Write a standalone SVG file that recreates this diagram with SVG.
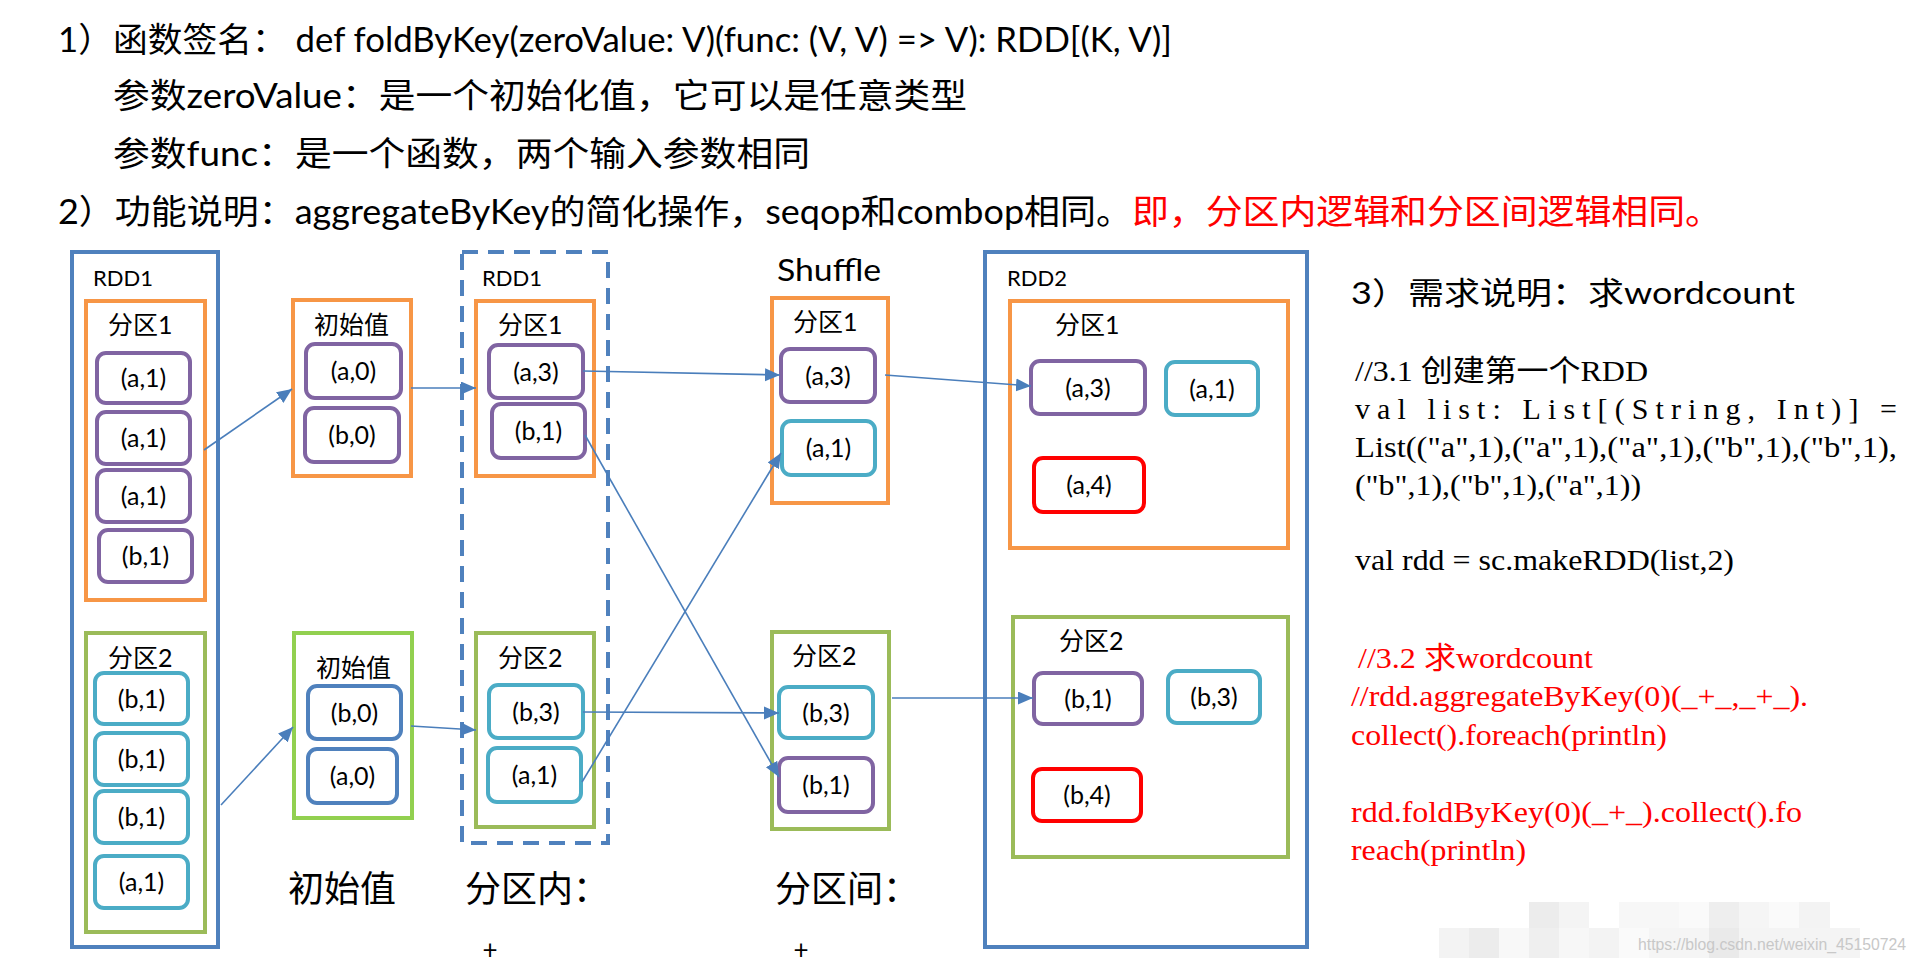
<svg xmlns="http://www.w3.org/2000/svg" width="1919" height="963" viewBox="0 0 1919 963">
<style>
.rdd{fill:none;stroke:#4F81BD;stroke-width:4}
.dash{fill:none;stroke:#4F81BD;stroke-width:4;stroke-dasharray:16 10}
.po{fill:none;stroke:#F79646;stroke-width:4}
.pg{fill:none;stroke:#9BBB59;stroke-width:4}
.pgb{fill:none;stroke:#92D050;stroke-width:4}
.ip{fill:#fff;stroke:#8064A2;stroke-width:4}
.it{fill:#fff;stroke:#4BACC6;stroke-width:4}
.ib{fill:#fff;stroke:#4F81BD;stroke-width:4}
.ir{fill:#fff;stroke:#FF0000;stroke-width:4}
text{font-family:Lato,'Noto Sans CJK SC',sans-serif;fill:#000}
.lbl{font-size:22px}
.itx{font-size:25px;text-anchor:middle}
.pl{font-size:25px}
.big{font-size:36px}
.hd{font-size:34px}
.tm{font-family:'Liberation Serif','Noto Sans CJK SC',serif;font-size:30px}
.red{fill:#FF0000}
.conn line{stroke:#4A7EBB;stroke-width:1.6;fill:none;marker-end:url(#ah)}
</style>
<defs>
<marker id="ah" markerUnits="userSpaceOnUse" markerWidth="16" markerHeight="14" refX="15" refY="6.5" orient="auto">
<path d="M0,0 L15,6.5 L0,13 Z" fill="#4A7EBB"/>
</marker>
</defs>
<rect width="1919" height="963" fill="#fff"/>

<g id="header">
<text class="hd" x="58" y="52" textLength="1114" lengthAdjust="spacingAndGlyphs">1）函数签名： def foldByKey(zeroValue: V)(func: (V, V) =&gt; V): RDD[(K, V)]</text>
<text class="hd" x="113" y="108" textLength="854" lengthAdjust="spacingAndGlyphs">参数zeroValue：是一个初始化值，它可以是任意类型</text>
<text class="hd" x="113" y="166" textLength="697" lengthAdjust="spacingAndGlyphs">参数func：是一个函数，两个输入参数相同</text>
<text class="hd" x="58" y="224" textLength="1074" lengthAdjust="spacingAndGlyphs">2）功能说明：aggregateByKey的简化操作，seqop和combop相同。</text>
<text class="hd red" x="1132" y="224" textLength="590" lengthAdjust="spacingAndGlyphs">即，分区内逻辑和分区间逻辑相同。</text>
</g>

<g id="rdd1">
<rect class="rdd" x="72" y="252" width="146" height="695"/>
<text class="lbl" x="93" y="286">RDD1</text>
<g id="rdd1-p1">
<rect class="po" x="86" y="301" width="119" height="299"/>
<text class="pl" x="108" y="334">分区1</text>
<rect class="ip" x="97" y="353" width="93" height="50" rx="9"/><text class="itx" x="143.5" y="387">(a,1)</text>
<rect class="ip" x="97" y="412" width="93" height="52" rx="9"/><text class="itx" x="143.5" y="447">(a,1)</text>
<rect class="ip" x="97" y="470" width="93" height="52" rx="9"/><text class="itx" x="143.5" y="505">(a,1)</text>
<rect class="ip" x="99" y="530" width="93" height="52" rx="9"/><text class="itx" x="145.5" y="565">(b,1)</text>
</g>
<g id="rdd1-p2">
<rect class="pg" x="86" y="633" width="119" height="299"/>
<text class="pl" x="108" y="667">分区2</text>
<rect class="it" x="95" y="673" width="93" height="51" rx="9"/><text class="itx" x="141.5" y="708">(b,1)</text>
<rect class="it" x="95" y="733" width="93" height="52" rx="9"/><text class="itx" x="141.5" y="768">(b,1)</text>
<rect class="it" x="95" y="791" width="93" height="52" rx="9"/><text class="itx" x="141.5" y="826">(b,1)</text>
<rect class="it" x="95" y="856" width="93" height="52" rx="9"/><text class="itx" x="141.5" y="891">(a,1)</text>
</g>
</g>

<g id="init1">
<rect class="po" x="293" y="300" width="118" height="176"/>
<text class="pl" x="314" y="334">初始值</text>
<rect class="ip" x="306" y="344" width="95" height="54" rx="9"/><text class="itx" x="353.5" y="380">(a,0)</text>
<rect class="ip" x="305" y="408" width="94" height="54" rx="9"/><text class="itx" x="352" y="444">(b,0)</text>
</g>
<g id="init2">
<rect class="pgb" x="294" y="633" width="118" height="185"/>
<text class="pl" x="316" y="677">初始值</text>
<rect class="ib" x="308" y="686" width="93" height="53" rx="9"/><text class="itx" x="354.5" y="722">(b,0)</text>
<rect class="ib" x="308" y="749" width="89" height="54" rx="9"/><text class="itx" x="352.5" y="785">(a,0)</text>
</g>

<g id="rdd1-inner">
<rect class="dash" x="462" y="252" width="146" height="591"/>
<text class="lbl" x="482" y="286">RDD1</text>
<g id="inner-p1">
<rect class="po" x="476" y="301" width="118" height="175"/>
<text class="pl" x="498" y="334">分区1</text>
<rect class="ip" x="489" y="345" width="94" height="53" rx="9"/><text class="itx" x="536" y="381">(a,3)</text>
<rect class="ip" x="492" y="404" width="93" height="54" rx="9"/><text class="itx" x="538.5" y="440">(b,1)</text>
</g>
<g id="inner-p2">
<rect class="pg" x="476" y="633" width="118" height="194"/>
<text class="pl" x="498" y="667">分区2</text>
<rect class="it" x="489" y="685" width="94" height="53" rx="9"/><text class="itx" x="536" y="721">(b,3)</text>
<rect class="it" x="488" y="748" width="93" height="54" rx="9"/><text class="itx" x="534.5" y="784">(a,1)</text>
</g>
</g>

<g id="shuffle">
<text x="777" y="281" style="font-size:30px" textLength="104" lengthAdjust="spacingAndGlyphs">Shuffle</text>
<g id="shuffle-p1">
<rect class="po" x="772" y="298" width="116" height="205"/>
<text class="pl" x="793" y="331">分区1</text>
<rect class="ip" x="781" y="349" width="94" height="53" rx="9"/><text class="itx" x="828" y="385">(a,3)</text>
<rect class="it" x="782" y="421" width="93" height="54" rx="9"/><text class="itx" x="828.5" y="457">(a,1)</text>
</g>
<g id="shuffle-p2">
<rect class="pg" x="772" y="632" width="117" height="197"/>
<text class="pl" x="792" y="665">分区2</text>
<rect class="it" x="779" y="687" width="94" height="51" rx="9"/><text class="itx" x="826" y="722">(b,3)</text>
<rect class="ip" x="779" y="758" width="94" height="54" rx="9"/><text class="itx" x="826" y="794">(b,1)</text>
</g>
</g>

<g id="rdd2">
<rect class="rdd" x="985" y="252" width="322" height="695"/>
<text class="lbl" x="1007" y="286">RDD2</text>
<g id="rdd2-p1">
<rect class="po" x="1010" y="301" width="278" height="247"/>
<text class="pl" x="1055" y="334">分区1</text>
<rect class="ip" x="1031" y="361" width="114" height="53" rx="9"/><text class="itx" x="1088" y="397">(a,3)</text>
<rect class="it" x="1166" y="362" width="92" height="53" rx="9"/><text class="itx" x="1212" y="398">(a,1)</text>
<rect class="ir" x="1034" y="458" width="110" height="54" rx="9"/><text class="itx" x="1089" y="494">(a,4)</text>
</g>
<g id="rdd2-p2">
<rect class="pg" x="1013" y="617" width="275" height="240"/>
<text class="pl" x="1059" y="650">分区2</text>
<rect class="ip" x="1034" y="673" width="108" height="51" rx="9"/><text class="itx" x="1088" y="708">(b,1)</text>
<rect class="it" x="1168" y="671" width="92" height="52" rx="9"/><text class="itx" x="1214" y="706">(b,3)</text>
<rect class="ir" x="1033" y="769" width="108" height="52" rx="9"/><text class="itx" x="1087" y="804">(b,4)</text>
</g>
</g>

<g id="connectors" class="conn">
<line x1="204" y1="450" x2="292" y2="389"/>
<line x1="221" y1="805" x2="293" y2="727"/>
<line x1="411" y1="388" x2="476" y2="388"/>
<line x1="411" y1="726" x2="476" y2="730"/>
<line x1="583" y1="371" x2="780" y2="375"/>
<line x1="585" y1="435" x2="779" y2="777"/>
<line x1="582" y1="782" x2="781" y2="453"/>
<line x1="583" y1="712" x2="779" y2="713"/>
<line x1="885" y1="375" x2="1031" y2="386"/>
<line x1="892" y1="698" x2="1033" y2="698"/>
</g>

<g id="captions">
<text class="big" x="288" y="902">初始值</text>
<text class="big" x="465" y="902">分区内：</text>
<text class="big" x="775" y="902">分区间：</text>
<text x="490" y="959" style="font-size:26px" text-anchor="middle">+</text>
<text x="801" y="959" style="font-size:26px" text-anchor="middle">+</text>
</g>

<g id="notes">
<text class="hd" x="1351" y="304" style="font-size:31px" textLength="444" lengthAdjust="spacingAndGlyphs">3）需求说明：求wordcount</text>
<text class="tm" x="1355" y="381" textLength="293" lengthAdjust="spacingAndGlyphs">//3.1 创建第一个RDD</text>
<text class="tm" x="1355" y="419" textLength="542" lengthAdjust="spacing">val list: List[(String, Int)] =</text>
<text class="tm" x="1355" y="457" textLength="542" lengthAdjust="spacingAndGlyphs">List(("a",1),("a",1),("a",1),("b",1),("b",1),</text>
<text class="tm" x="1355" y="495" textLength="286" lengthAdjust="spacingAndGlyphs">("b",1),("b",1),("a",1))</text>
<text class="tm" x="1355" y="570" textLength="379" lengthAdjust="spacingAndGlyphs">val rdd = sc.makeRDD(list,2)</text>
<text class="tm red" x="1358" y="668" textLength="235" lengthAdjust="spacingAndGlyphs">//3.2 求wordcount</text>
<text class="tm red" x="1351" y="706" textLength="457" lengthAdjust="spacingAndGlyphs">//rdd.aggregateByKey(0)(_+_,_+_).</text>
<text class="tm red" x="1351" y="745" textLength="316" lengthAdjust="spacingAndGlyphs">collect().foreach(println)</text>
<text class="tm red" x="1351" y="822" textLength="451" lengthAdjust="spacingAndGlyphs">rdd.foldByKey(0)(_+_).collect().fo</text>
<text class="tm red" x="1351" y="860" textLength="175" lengthAdjust="spacingAndGlyphs">reach(println)</text>
</g>

<g id="watermark">
<rect x="1529" y="902" width="30" height="26" fill="#ececec"/>
<rect x="1559" y="902" width="30" height="26" fill="#f4f4f4"/>
<rect x="1619" y="902" width="60" height="26" fill="#f7f7f7"/>
<rect x="1679" y="902" width="30" height="26" fill="#fafafa"/>
<rect x="1709" y="902" width="30" height="26" fill="#eeeeee"/>
<rect x="1739" y="902" width="30" height="26" fill="#f5f5f5"/>
<rect x="1769" y="902" width="30" height="26" fill="#fafafa"/>
<rect x="1799" y="902" width="31" height="26" fill="#f3f3f3"/>
<rect x="1439" y="928" width="30" height="30" fill="#f3f3f3"/>
<rect x="1469" y="928" width="30" height="30" fill="#ececec"/>
<rect x="1499" y="928" width="30" height="30" fill="#f8f8f8"/>
<rect x="1529" y="928" width="30" height="30" fill="#efefef"/>
<rect x="1559" y="928" width="30" height="30" fill="#f7f7f7"/>
<rect x="1589" y="928" width="30" height="30" fill="#f3f3f3"/>
<rect x="1619" y="928" width="30" height="30" fill="#fafafa"/>
<rect x="1649" y="928" width="60" height="30" fill="#f5f5f5"/>
<rect x="1709" y="928" width="30" height="30" fill="#eaeaea"/>
<rect x="1739" y="928" width="121" height="30" fill="#f4f4f4"/>
<text x="1638" y="950" style="font-family:'Liberation Sans',sans-serif;font-size:15.8px;fill:#c8c8c8" textLength="268" lengthAdjust="spacingAndGlyphs">https://blog.csdn.net/weixin_45150724</text>
</g>
</svg>
